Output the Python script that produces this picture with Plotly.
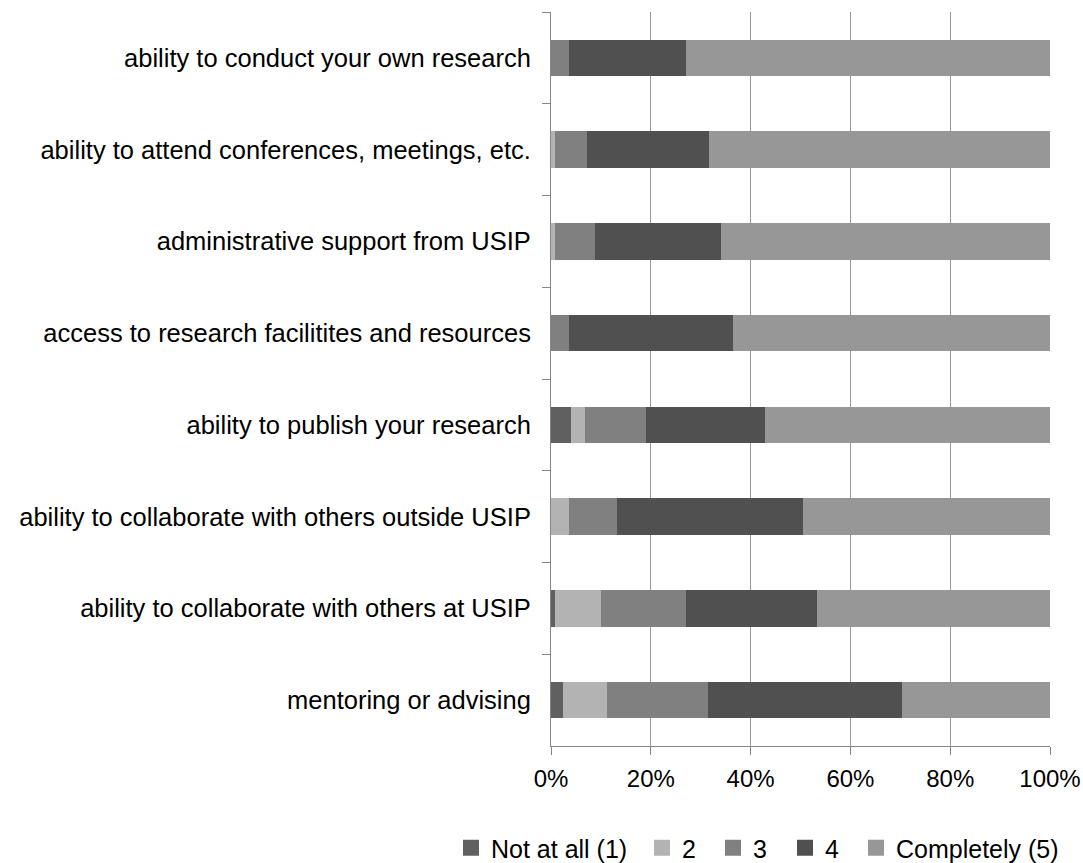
import plotly.graph_objects as go

categories = [
    "ability to conduct your own research",
    "ability to attend conferences, meetings, etc.",
    "administrative support from USIP",
    "access to research facilitites and resources",
    "ability to publish your research",
    "ability to collaborate with others outside USIP",
    "ability to collaborate with others at USIP",
    "mentoring or advising",
]
series_names = ["Not at all (1)", "2", "3", "4", "Completely (5)"]
not_at_all = [0, 0, 0, 0, 4.0, 0, 0.8, 2.4]
two = [0, 0.8, 0.8, 0, 2.8, 3.6, 9.2, 8.8]
three = [3.6, 6.4, 8.0, 3.6, 12.2, 9.6, 17.0, 20.2]
four = [23.4, 24.4, 25.2, 32.8, 23.8, 37.4, 26.4, 39.0]
completely = [73.0, 68.4, 66.0, 63.6, 57.2, 49.4, 46.6, 29.6]
x_ticks = [0, 20, 40, 60, 80, 100]
x_tick_labels = ["0%", "20%", "40%", "60%", "80%", "100%"]

colors = ["#606060", "#b3b3b3", "#808080", "#505050", "#979797"]
values = [not_at_all, two, three, four, completely]

FONT = "Liberation Sans, Arial, sans-serif"
W, H = 1083, 863

fig = go.Figure()
for name, vals, col in zip(series_names, values, colors):
    fig.add_trace(go.Bar(
        y=categories, x=vals, name=name, orientation="h",
        marker=dict(color=col, line=dict(width=0)),
        showlegend=False,
    ))

# one legend per entry so each entry sits where the reference has it
legend_ids = ["legend", "legend2", "legend3", "legend4", "legend5"]
legend_x_px = [451, 642, 713, 785, 856]
for name, col, lid in zip(series_names, colors, legend_ids):
    fig.add_trace(go.Scatter(
        x=[None], y=[None], mode="markers", name=name,
        marker=dict(symbol="square", size=16, color=col),
        showlegend=True, legend=lid,
    ))

legend_layouts = {}
for lid, px in zip(legend_ids, legend_x_px):
    legend_layouts[lid] = dict(
        orientation="h",
        xref="container", yref="container",
        x=px / W, xanchor="left", y=1 - 848 / H, yanchor="middle",
        font=dict(family=FONT, size=25, color="black"),
        bgcolor="rgba(0,0,0,0)", borderwidth=0,
    )

fig.update_layout(
    width=W, height=H,
    margin=dict(l=551, r=33, t=12, b=117, autoexpand=False),
    barmode="stack", bargap=0.6,
    plot_bgcolor="white", paper_bgcolor="white",
    font=dict(family=FONT, size=25, color="black"),
    **legend_layouts,
)
fig.update_xaxes(
    range=[0, 100], tickvals=x_ticks, ticktext=x_tick_labels,
    showgrid=True, gridcolor="#9a9a9a", gridwidth=1,
    showline=True, linecolor="#868686", linewidth=1,
    ticks="outside", ticklen=8, tickcolor="#868686",
    tickfont=dict(family=FONT, size=24), ticklabelstandoff=3,
    zeroline=False, fixedrange=True, automargin=False,
)
fig.update_yaxes(
    type="category", categoryorder="array", categoryarray=categories,
    autorange="reversed",
    showline=True, linecolor="#868686", linewidth=1,
    ticks="outside", ticklen=8, tickcolor="#868686", tickson="boundaries",
    tickfont=dict(family=FONT, size=25.5), ticklabelstandoff=14,
    showgrid=False, zeroline=False, fixedrange=True, automargin=False,
)

fig.write_html("out.html")
